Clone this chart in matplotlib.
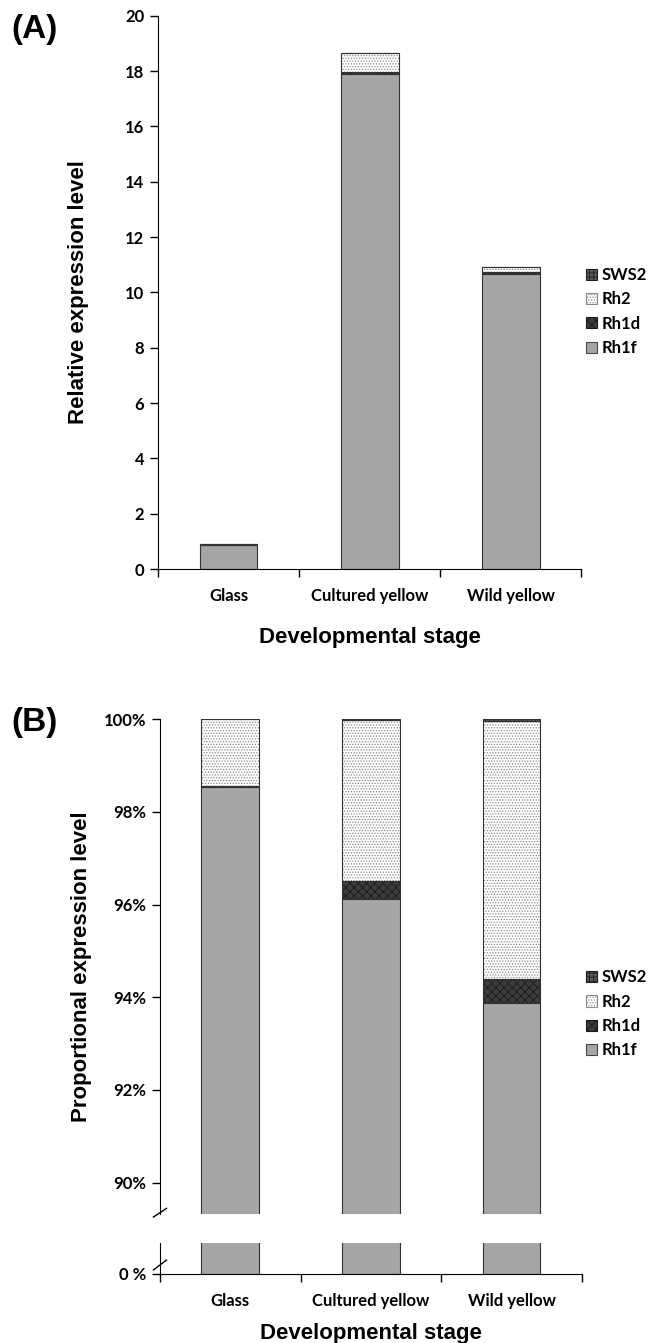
import matplotlib
matplotlib.use("Agg")
import matplotlib.pyplot as plt
import matplotlib.patches as mpatches
import numpy as np

# categories
stages = ["Glass", "Cultured yellow", "Wild yellow"]
genes = ["Rh1f", "Rh1d", "Rh2", "SWS2"]

# (A) relative expression level
rel_rh1f = [0.86, 17.90, 10.68]
rel_rh1d = [0.02, 0.08, 0.06]
rel_rh2 = [0.01, 0.68, 0.17]
rel_sws2 = [0.0, 0.005, 0.005]

# (B) proportional expression level (%)
prop_rh1f = [98.53, 96.12, 93.88]
prop_rh1d = [0.03, 0.39, 0.51]
prop_rh2 = [1.44, 3.48, 5.58]
prop_sws2 = [0.0, 0.01, 0.03]

tick_font = dict(family="Lato", weight="bold", size=12)
label_font = dict(family="Liberation Sans", weight="bold", size=16)

styles = {
    "Rh1f": dict(face="#a6a6a6", hatch=None, hcol="#a6a6a6"),
    "Rh1d": dict(face="#3c3c3c", hatch="xxxx", hcol="#1a1a1a"),
    "Rh2": dict(face="#ffffff", hatch="......", hcol="#8a8a8a"),
    "SWS2": dict(face="#5a5a5a", hatch="++++", hcol="#222222"),
}

plt.rcParams["hatch.linewidth"] = 0.6


def draw_stack(ax, series):
    x = np.arange(len(stages)) + 0.5
    bottom = np.zeros(len(stages))
    for name, vals in zip(genes, series):
        st = styles[name]
        vals = np.array(vals)
        ax.bar(x, vals, 0.41, bottom=bottom, color=st["face"], hatch=st["hatch"],
               edgecolor=st["hcol"], linewidth=0)
        ax.bar(x, vals, 0.41, bottom=bottom, fill=False, edgecolor="#333333", linewidth=0.8)
        bottom = bottom + vals
    ax.set_xlim(0, 3)


def style_x(ax, labels=True):
    ax.set_xticks([0, 1, 2, 3])
    ax.set_xticklabels([])
    ax.tick_params(axis="x", which="major", direction="out", length=6, width=1)
    ax.set_xticks(np.arange(3) + 0.5, minor=True)
    if labels:
        ax.set_xticklabels(stages, minor=True, **tick_font)
    ax.tick_params(axis="x", which="minor", length=0, pad=14)


def add_legend(fig, y):
    handles = []
    for name in genes[::-1]:
        st = styles[name]
        handles.append(mpatches.Patch(facecolor=st["face"], hatch=st["hatch"],
                                      edgecolor=st["hcol"] if st["hatch"] else "#4a4a4a",
                                      linewidth=0.8, label=name))
    fig.legend(handles=handles, loc="center left", bbox_to_anchor=(0.898, y),
               frameon=False, handlelength=0.65, handleheight=0.65, handletextpad=0.25,
               labelspacing=0.5, borderaxespad=0, borderpad=0,
               prop=dict(family="Lato", weight="bold", size=12))


fig = plt.figure(figsize=(6.53, 13.43), dpi=100)

# ---- panel A
axA = fig.add_axes([0.242, 0.5763, 0.648, 0.4120])
draw_stack(axA, [rel_rh1f, rel_rh1d, rel_rh2, rel_sws2])
axA.set_ylim(0, 20)
axA.set_yticks(np.arange(0, 21, 2))
axA.set_yticklabels([str(v) for v in range(0, 21, 2)], **tick_font)
axA.tick_params(axis="y", direction="out", length=6, width=1, pad=4)
for s in ["top", "right"]:
    axA.spines[s].set_visible(False)
style_x(axA)
axA.set_xlabel("Developmental stage", labelpad=16, **label_font)
axA.set_ylabel("Relative expression level", labelpad=26, **label_font)
fig.text(0.017, 0.978, "(A)", family="Liberation Sans", weight="bold", size=24, va="center")
add_legend(fig, 0.768)

# ---- panel B upper part
axB = fig.add_axes([0.245, 0.0963, 0.646, 0.3681])
draw_stack(axB, [prop_rh1f, prop_rh1d, prop_rh2, prop_sws2])
axB.set_ylim(89.33, 100)
axB.set_yticks([90, 92, 94, 96, 98, 100])
axB.set_yticklabels(["90%", "92%", "94%", "96%", "98%", "100%"], **tick_font)
axB.tick_params(axis="y", direction="out", length=6, width=1, pad=4)
for s in ["top", "right", "bottom"]:
    axB.spines[s].set_visible(False)
axB.set_xticks([])
axB.set_ylabel("Proportional expression level", labelpad=8, **label_font)
fig.text(0.017, 0.4617, "(B)", family="Liberation Sans", weight="bold", size=24, va="center")
add_legend(fig, 0.245)

# ---- panel B lower part
axL = fig.add_axes([0.245, 0.0514, 0.646, 0.0231])
draw_stack(axL, [prop_rh1f, prop_rh1d, prop_rh2, prop_sws2])
axL.set_ylim(0, 1)
axL.set_yticks([0])
axL.set_yticklabels(["0 %"], **tick_font)
axL.tick_params(axis="y", direction="out", length=6, width=1, pad=4)
for s in ["top", "right"]:
    axL.spines[s].set_visible(False)
style_x(axL)
axL.set_xlabel("Developmental stage", labelpad=10, **label_font)

# break marks
kw = dict(color="black", lw=1, clip_on=False)
axB.plot([-0.0155, 0.0155], [-0.0068, 0.0107], transform=axB.transAxes, **kw)
axL.plot([-0.0155, 0.0155], [0.13, 0.45], transform=axL.transAxes, **kw)

fig.savefig("out.png", dpi=100)
